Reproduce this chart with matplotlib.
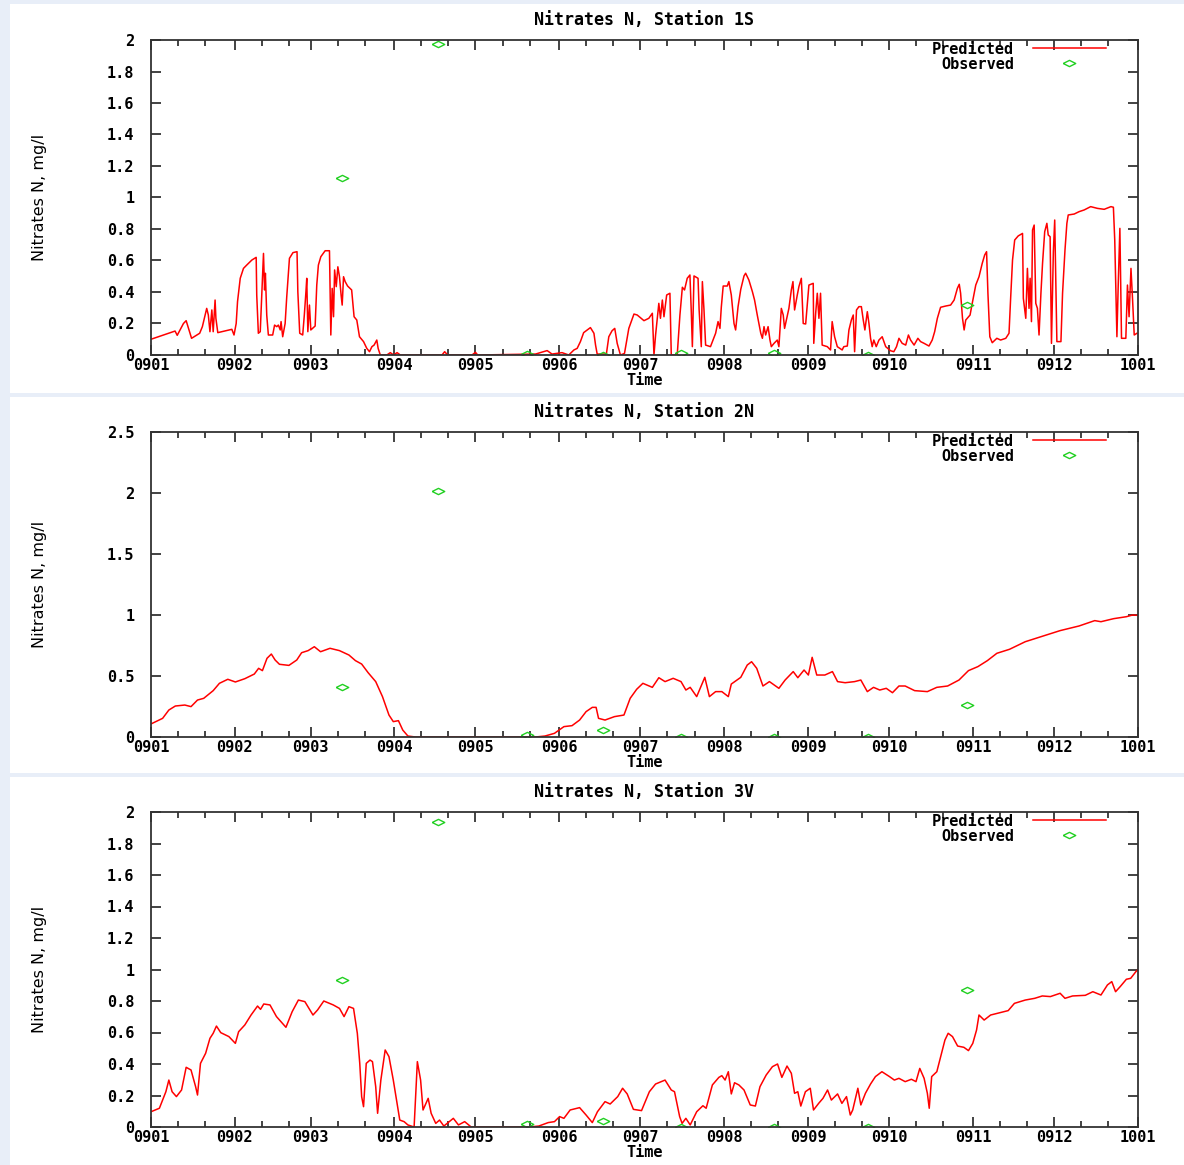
import numpy as np
import matplotlib
matplotlib.use("Agg")
import matplotlib.pyplot as plt
import matplotlib.dates as mdates
from matplotlib.ticker import MultipleLocator, FormatStrFormatter
from matplotlib.patches import Rectangle

# gun sayisi (2009-01-01'den itibaren) ve deger, okunarak alindi
pred_1s = [
    (0, 0.10), (8.9, 0.152), (9.7, 0.125), (12, 0.20), (13, 0.218), (15, 0.106), (17, 0.127),
    (18, 0.138), (19, 0.18), (20, 0.254), (20.6, 0.296), (21.2, 0.254), (21.8, 0.148),
    (22.5, 0.286), (23, 0.148), (23.7, 0.349), (24, 0.233), (24.7, 0.142), (29.9, 0.163),
    (30.7, 0.127), (31.5, 0.2), (32, 0.339), (33, 0.487), (34.2, 0.55), (35.4, 0.571),
    (37.3, 0.603), (38.9, 0.62), (39.1, 0.381), (39.7, 0.138), (40.4, 0.148), (41, 0.402),
    (41.6, 0.645), (42, 0.413), (42.3, 0.519), (42.8, 0.254), (43.4, 0.127), (45, 0.127),
    (45.7, 0.19), (46.5, 0.18), (47.1, 0.19), (47.8, 0.159), (48.1, 0.212), (48.7, 0.116),
    (49.6, 0.20), (50.2, 0.37), (51.2, 0.614), (52.5, 0.65), (54, 0.656), (54.3, 0.402),
    (55, 0.138), (56.1, 0.127), (56.7, 0.254), (57.3, 0.402), (57.6, 0.487), (58, 0.148),
    (58.6, 0.317), (59.1, 0.159), (60.7, 0.184), (61.3, 0.444), (61.9, 0.571), (62.8, 0.624),
    (64.4, 0.662), (66, 0.662), (66.5, 0.127), (67, 0.423), (67.5, 0.243), (67.9, 0.54),
    (68.5, 0.434), (69.1, 0.56), (69.7, 0.497), (70.3, 0.381), (70.7, 0.317), (71.2, 0.497),
    (71.8, 0.466), (72.7, 0.438), (74.2, 0.413), (75.1, 0.243), (76.1, 0.222), (77.1, 0.116),
    (78.6, 0.085), (79.8, 0.042), (80.8, 0.021), (81.7, 0.053), (82.5, 0.063), (83.5, 0.095),
    (84, 0.042), (84.8, 0.0), (87.2, 0.0), (88.5, 0.015), (89.7, 0.0), (91, 0.015), (92.2, 0.0),
    (107.6, 0.0), (108.6, 0.021), (109.7, 0.0), (118.7, 0.0), (120, 0.017), (120.8, 0.0),
    (142.2, 0.006), (146.5, 0.028), (148.3, 0.006), (152, 0.015), (154.5, 0.0), (156.4, 0.032),
    (157.6, 0.042), (158.8, 0.085), (160, 0.142), (162.5, 0.174), (163.8, 0.138), (164.4, 0.063),
    (165, 0.006), (168.4, 0.006), (169.3, 0.116), (170.5, 0.154), (171.5, 0.169), (172.4, 0.074),
    (173.6, 0.0), (175.1, 0.01), (176.7, 0.169), (178.6, 0.26), (179.8, 0.254), (182.3, 0.218),
    (184.1, 0.233), (185.4, 0.265), (186, 0.0), (186.6, 0.127), (187.8, 0.328), (188.4, 0.233),
    (189.1, 0.349), (189.7, 0.243), (190.7, 0.381), (191.9, 0.392), (192.4, 0.0), (194.6, 0.0),
    (195.6, 0.254), (196.5, 0.43), (197.3, 0.413), (198.3, 0.487), (199.3, 0.508), (199.8, 0.275),
    (200.2, 0.053), (200.8, 0.502), (202.3, 0.487), (202.7, 0.286), (203.5, 0.053), (203.9, 0.466),
    (204.5, 0.286), (205.1, 0.063), (206.9, 0.053), (208.8, 0.138), (209.7, 0.212), (210.4, 0.169),
    (210.9, 0.303), (211.6, 0.438), (213.1, 0.438), (213.7, 0.466), (214.6, 0.381), (215.6, 0.2),
    (216.2, 0.159), (217.1, 0.307), (218.1, 0.417), (219.3, 0.502), (219.9, 0.519), (221.1, 0.476),
    (222.4, 0.402), (223.2, 0.349), (224.2, 0.254), (225.5, 0.138), (226.1, 0.106), (226.7, 0.18),
    (227.3, 0.127), (228.2, 0.18), (228.9, 0.095), (229.4, 0.053), (230.4, 0.074), (231.6, 0.095),
    (232.2, 0.053), (233.1, 0.296), (233.8, 0.254), (234.3, 0.169), (235.1, 0.233), (235.9, 0.296),
    (236.8, 0.413), (237.4, 0.466), (238, 0.286), (239, 0.381), (239.6, 0.434), (240.5, 0.487),
    (241.2, 0.2), (242.1, 0.197), (243.3, 0.444), (244.9, 0.455), (245.1, 0.074), (245.8, 0.265),
    (246.4, 0.392), (247, 0.233), (247.6, 0.392), (248.2, 0.063), (250.1, 0.053), (251.3, 0.032),
    (251.9, 0.212), (252.8, 0.116), (253.8, 0.053), (255.6, 0.032), (256.2, 0.053), (257.5, 0.057),
    (258.1, 0.159), (259, 0.222), (259.7, 0.254), (260.2, 0.021), (260.9, 0.286), (261.8, 0.307),
    (262.7, 0.307), (263.4, 0.222), (264, 0.159), (264.9, 0.275), (265.5, 0.201), (266.1, 0.106),
    (266.7, 0.053), (267.3, 0.095), (268.2, 0.053), (269.2, 0.095), (270.4, 0.116), (271.7, 0.053),
    (273.5, 0.027), (274.7, 0.021), (275.7, 0.053), (276.6, 0.106), (277.8, 0.074), (279.1, 0.063),
    (280.1, 0.127), (280.9, 0.095), (282.2, 0.063), (283.6, 0.106), (284.6, 0.085), (285.9, 0.074),
    (287.7, 0.057), (288.9, 0.095), (289.8, 0.148), (290.8, 0.233), (292, 0.303), (293.9, 0.311),
    (295.7, 0.317), (297, 0.349), (298.2, 0.423), (298.9, 0.449), (299.4, 0.392), (300.1, 0.233),
    (300.7, 0.159), (301.3, 0.222), (302.9, 0.254), (303.7, 0.328), (305, 0.444), (306.2, 0.497),
    (307.4, 0.582), (308.3, 0.635), (309, 0.656), (309.5, 0.392), (310.2, 0.116), (311.1, 0.078),
    (312.8, 0.106), (314.2, 0.095), (316.1, 0.106), (317.3, 0.138), (317.9, 0.36), (318.6, 0.603),
    (319.4, 0.73), (320.7, 0.756), (322.3, 0.772), (322.6, 0.36), (323.5, 0.233), (324.1, 0.55),
    (324.7, 0.296), (325.1, 0.487), (325.6, 0.212), (326, 0.794), (326.6, 0.825), (327.2, 0.328),
    (327.8, 0.296), (328.4, 0.127), (329.1, 0.392), (329.7, 0.582), (330.5, 0.783), (331.3, 0.836),
    (331.8, 0.762), (332.5, 0.751), (333, 0.074), (333.7, 0.656), (334.2, 0.857), (334.6, 0.476),
    (335, 0.085), (336.5, 0.085), (337.1, 0.392), (338, 0.667), (338.7, 0.836), (339.2, 0.889),
    (341.4, 0.895), (343.2, 0.91), (345.1, 0.921), (347.5, 0.942), (350, 0.931), (352.5, 0.925),
    (355, 0.942), (355.9, 0.938), (356.4, 0.73), (357.2, 0.116), (357.7, 0.455), (358.3, 0.804),
    (358.9, 0.106), (360.5, 0.106), (361.1, 0.444), (361.7, 0.243), (362.4, 0.55), (363, 0.349),
    (363.6, 0.127), (364.6, 0.138),
]

pred_2n = [
    (0, 0.107), (4.3, 0.153), (6.6, 0.221), (9, 0.254), (12.5, 0.262), (14.8, 0.249), (17.2, 0.303),
    (19.5, 0.317), (23, 0.38), (25.3, 0.44), (28.4, 0.473), (31.2, 0.451), (34.7, 0.478),
    (38.2, 0.516), (39.8, 0.563), (41.2, 0.544), (42.9, 0.645), (44.5, 0.68), (45.9, 0.631),
    (47.5, 0.596), (51, 0.587), (53.9, 0.631), (55.7, 0.691), (58.1, 0.708), (60.4, 0.74),
    (62.7, 0.699), (66.2, 0.727), (69.7, 0.708), (73.2, 0.672), (75.6, 0.626), (77.9, 0.598),
    (80.3, 0.527), (83.1, 0.454), (85.6, 0.331), (88, 0.18), (89.6, 0.126), (91.5, 0.134),
    (93.1, 0.057), (95, 0.008), (97.8, 0.0), (142.2, 0.0), (145.7, 0.008), (149.2, 0.03),
    (152.7, 0.085), (155.7, 0.093), (158.5, 0.139), (160.9, 0.208), (163.2, 0.243), (164.6, 0.243),
    (165.5, 0.153), (167.9, 0.139), (171.4, 0.167), (174.9, 0.18), (177.2, 0.317), (179.6, 0.391),
    (181.9, 0.44), (185.4, 0.407), (187.8, 0.486), (190.1, 0.454), (193.1, 0.481), (196, 0.454),
    (197.8, 0.385), (199.4, 0.407), (201.8, 0.331), (204.8, 0.489), (206.5, 0.331), (208.8, 0.372),
    (211.1, 0.372), (213.5, 0.331), (214.6, 0.434), (218.1, 0.489), (220.5, 0.59), (222.1, 0.617),
    (224, 0.563), (226.3, 0.418), (228.7, 0.454), (232.2, 0.399), (234.5, 0.467), (237.5, 0.536),
    (239.2, 0.486), (241.5, 0.549), (243.1, 0.508), (244.5, 0.653), (246.2, 0.508), (249.2, 0.508),
    (252, 0.536), (253.9, 0.454), (256.7, 0.445), (260.2, 0.454), (262.5, 0.467), (264.9, 0.372),
    (267.2, 0.407), (269.5, 0.385), (271.9, 0.399), (274.2, 0.363), (276.6, 0.418), (278.9, 0.418),
    (282.4, 0.38), (287.1, 0.372), (290.6, 0.407), (294.6, 0.418), (298.8, 0.467), (302.3, 0.544),
    (305.8, 0.577), (309.3, 0.626), (312.8, 0.686), (317.5, 0.719), (323.3, 0.781), (329.1, 0.822),
    (336.2, 0.872), (343.2, 0.91), (349, 0.954), (351.3, 0.945), (356, 0.97), (360.7, 0.986),
    (363, 1.0), (365, 0.997),
]

pred_3v = [
    (0, 0.097), (3.1, 0.119), (5.5, 0.224), (6.6, 0.298), (7.8, 0.224), (9.4, 0.193), (11.3, 0.235),
    (13, 0.379), (14.8, 0.362), (16.5, 0.256), (17.2, 0.203), (18.3, 0.404), (20.2, 0.468),
    (21.8, 0.563), (23, 0.595), (24.2, 0.641), (25.8, 0.599), (28.8, 0.574), (31.2, 0.531),
    (32.4, 0.605), (34.7, 0.648), (37, 0.711), (39.4, 0.768), (40.5, 0.747), (41.7, 0.781),
    (44, 0.775), (46.4, 0.701), (49.9, 0.633), (52.2, 0.732), (54.5, 0.806), (56.9, 0.796),
    (59.9, 0.711), (61.6, 0.743), (63.9, 0.8), (67.4, 0.775), (69.7, 0.753), (71.4, 0.701),
    (73.2, 0.764), (74.9, 0.753), (76.3, 0.595), (77.2, 0.404), (77.9, 0.193), (78.6, 0.129),
    (79.6, 0.404), (81, 0.425), (81.9, 0.415), (83.1, 0.256), (83.8, 0.087), (85, 0.298),
    (86.6, 0.489), (88, 0.447), (89.6, 0.298), (90.8, 0.171), (92, 0.044), (93.6, 0.034),
    (95, 0.013), (97.3, 0.0), (98.5, 0.415), (99.7, 0.298), (100.6, 0.108), (102.5, 0.182),
    (103.6, 0.087), (105.3, 0.023), (106.7, 0.044), (108.3, 0.006), (111.8, 0.055), (113.7, 0.013),
    (116, 0.034), (118.4, 0.0), (139.9, 0.0), (143.4, 0.006), (146.9, 0.028), (149.2, 0.034),
    (151.1, 0.066), (152.7, 0.055), (155, 0.108), (158.5, 0.123), (160.9, 0.076), (163.2, 0.028),
    (165.1, 0.097), (167.9, 0.161), (169.8, 0.146), (172.6, 0.193), (174.4, 0.246), (176.1, 0.21),
    (178.4, 0.112), (181.4, 0.104), (184.3, 0.224), (186.6, 0.273), (190.1, 0.298), (192.4, 0.235),
    (193.6, 0.224), (195.5, 0.066), (196.4, 0.023), (197.8, 0.055), (199.4, 0.013), (201.8, 0.097),
    (204.1, 0.135), (205.3, 0.119), (207.6, 0.267), (210, 0.315), (211.1, 0.326), (212.3, 0.298),
    (213.5, 0.351), (214.6, 0.21), (215.8, 0.281), (217.4, 0.267), (219.3, 0.235), (221.6, 0.14),
    (223.5, 0.133), (225.2, 0.256), (227.5, 0.33), (229.8, 0.383), (231.7, 0.4), (233.3, 0.315),
    (235.2, 0.387), (236.8, 0.341), (238, 0.214), (239.2, 0.224), (240.3, 0.133), (242, 0.224),
    (243.8, 0.246), (245, 0.108), (246.9, 0.15), (248.5, 0.182), (250.2, 0.235), (251.6, 0.171),
    (253.9, 0.21), (255.5, 0.15), (257.2, 0.193), (258.6, 0.076), (259.5, 0.108), (261.4, 0.246),
    (262.5, 0.14), (264.2, 0.214), (266.1, 0.273), (267.9, 0.32), (270.3, 0.351), (273.1, 0.32),
    (274.9, 0.298), (276.6, 0.309), (278.9, 0.288), (281.2, 0.303), (282.9, 0.288), (284.3, 0.372),
    (285.9, 0.309), (287.1, 0.214), (287.8, 0.119), (288.7, 0.32), (290.6, 0.351), (292.2, 0.457),
    (293.6, 0.552), (294.8, 0.595), (296.4, 0.574), (298.3, 0.514), (300.6, 0.506), (302.3, 0.485),
    (303.9, 0.531), (305.3, 0.616), (306.2, 0.711), (308.1, 0.679), (310.5, 0.711), (313.9, 0.726),
    (317, 0.739), (319.3, 0.785), (323.3, 0.806), (326.8, 0.817), (329.6, 0.832), (332.6, 0.828),
    (336.2, 0.849), (338, 0.817), (340.8, 0.832), (345.5, 0.836), (348.3, 0.859), (351.3, 0.838),
    (353.7, 0.902), (355.3, 0.923), (356.7, 0.859), (358.4, 0.891), (360.7, 0.938), (362.3, 0.944),
    (364.2, 0.986), (365, 1.0),
]

# gozlem gunleri (ortak) ve istasyon degerleri
obs_days = [70.7, 106.2, 139.2, 167, 196, 230.3, 265, 301.7]
obs_1s = [1.124, 1.975, 0.005, 0.003, 0.01, 0.015, 0.0, 0.32]
obs_2n = [0.41, 2.016, 0.016, 0.057, 0.0, 0.0, 0.0, 0.26]
obs_3v = [0.933, 1.937, 0.02, 0.04, 0.0, 0.0, 0.0, 0.87]

stations = ["1S", "2N", "3V"]
y_max = [2.0, 2.5, 2.0]
y_step = [0.2, 0.5, 0.2]

BASE = np.datetime64("2009-01-01T00:00")


def gun_to_tarih(gunler):
    gunler = np.asarray(gunler, dtype=float)
    return BASE + np.round(gunler * 1440).astype("timedelta64[m]")


BG = "#e8eef8"
W, H = 1184, 1165
fig = plt.figure(figsize=(W / 100, H / 100), dpi=100, facecolor=BG)

# beyaz paneller (piksel: ust, alt)
panel_px = [(4, 393), (397, 773), (777, 1165)]
for top, bot in panel_px:
    fig.add_artist(Rectangle((10 / W, 1 - bot / H), 1, (bot - top) / H,
                             transform=fig.transFigure, facecolor="white",
                             edgecolor="none", zorder=0))

# eksen kutulari (piksel: ust, alt)
axes_px = [(40, 355), (432, 737), (812, 1127)]
left, right = 151, 1138

mono = "DejaVu Sans Mono"
tick_font = dict(family=mono, weight="bold", size=11)

diamond = [(-1, 0), (0, 0.5), (1, 0), (0, -0.5), (-1, 0)]

preds = [pred_1s, pred_2n, pred_3v]
obss = [obs_1s, obs_2n, obs_3v]

for i in range(3):
    top, bot = axes_px[i]
    ax = fig.add_axes([left / W, 1 - bot / H, (right - left) / W, (bot - top) / H])
    ax.set_facecolor("white")

    gun = [p[0] for p in preds[i]]
    deger = [p[1] for p in preds[i]]
    ax.plot(gun_to_tarih(gun), deger, color="#ff0000", lw=1.1, label="Predicted")
    ax.plot(gun_to_tarih(obs_days), obss[i], linestyle="none", marker=diamond,
            markersize=9, mfc="none", mec="#22d022", mew=1.0, label="Observed")

    ax.set_xlim(np.datetime64("2009-01-01"), np.datetime64("2010-01-01"))
    ax.set_ylim(0, y_max[i])

    ax.xaxis.set_major_locator(mdates.MonthLocator())
    ax.xaxis.set_major_formatter(mdates.DateFormatter("%y%m"))
    ax.xaxis.set_minor_locator(mdates.DayLocator(bymonthday=[11, 21]))
    ax.yaxis.set_major_locator(MultipleLocator(y_step[i]))
    ax.yaxis.set_major_formatter(FormatStrFormatter("%g"))

    ax.tick_params(which="both", direction="in", top=True, right=True, colors="#222222")
    ax.tick_params(which="major", length=7, width=1.2)
    ax.tick_params(which="minor", length=4, width=1.2)
    ax.tick_params(axis="x", which="major", pad=2)
    ax.tick_params(axis="y", which="major", pad=12)
    for lab in ax.get_xticklabels() + ax.get_yticklabels():
        lab.set_fontproperties(tick_font)
        lab.set_color("black")

    for sp in ax.spines.values():
        sp.set_color("#333333")
        sp.set_linewidth(1.3)

    ax.set_title(f"Nitrates N, Station {stations[i]}", fontfamily=mono,
                 fontweight="bold", fontsize=12, pad=11)
    ax.set_xlabel("Time", fontfamily=mono, fontweight="bold", fontsize=11, labelpad=0)
    ax.set_ylabel("Nitrates N, mg/l", fontfamily="DejaVu Sans", fontsize=11.5)
    ax.yaxis.set_label_coords(-0.105, 0.5)

    ax.legend(loc="upper right", bbox_to_anchor=(0.969, 1.0), frameon=False,
              markerfirst=False, handlelength=4.8, handletextpad=1.2,
              labelspacing=0.0, borderaxespad=0.0, borderpad=0.1,
              prop=dict(family=mono, weight="bold", size=11))

fig.savefig("out.png", dpi=100, facecolor=BG)
